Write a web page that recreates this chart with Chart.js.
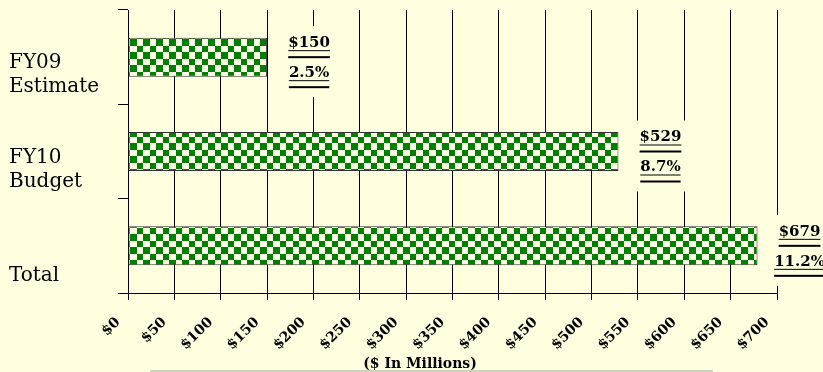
<!DOCTYPE html>
<html>
<head>
<meta charset="utf-8">
<script src="https://cdn.jsdelivr.net/npm/chart.js@4/dist/chart.umd.min.js"></script>
<style>
    html, body { margin: 0; padding: 0; background: #ffffe0; }
    #wrap { width: 823px; height: 372px; }
</style>
</head>
<body>
<div id="wrap"><canvas id="grafik" width="823" height="372"></canvas></div>
<script>
// =================
// DATA
// =================
const kategori = [["FY09", "Estimate"], ["FY10", "Budget"], ["Total"]];
const nilai = [150, 529, 679];          // $ juta
const persen = ["2.5%", "8.7%", "11.2%"];
const tickMin = 0;
const tickMax = 700;
const tickStep = 50;
const judulX = "($ In Millions)";

const warnaLatar = "#ffffe0";
const serif = '"DejaVu Serif", serif';

// =================
// POLA KOTAK-KOTAK
// =================
function buatPola() {
    let c = document.createElement("canvas");
    c.width = 13;
    c.height = 13;
    let g = c.getContext("2d");
    g.fillStyle = "#ffffe8";
    g.fillRect(0, 0, 13, 13);
    g.fillStyle = "#008000";
    g.fillRect(0, 0, 7, 7);
    g.fillRect(7, 7, 6, 6);
    return g.createPattern(c, "repeat");
}

// =================
// LATAR BELAKANG
// =================
const latar = {
    id: "latar",
    beforeDraw(chart) {
        let ctx = chart.ctx;
        ctx.save();
        ctx.fillStyle = warnaLatar;
        ctx.fillRect(0, 0, chart.width, chart.height);
        ctx.restore();
    }
};

// =================
// LABEL KATEGORI (kiri)
// =================
const labelKategori = {
    id: "labelKategori",
    afterDraw(chart) {
        let ctx = chart.ctx;
        let y = chart.scales.y;
        let pita = y.getPixelForValue(1) - y.getPixelForValue(0);
        ctx.save();
        ctx.font = "20px " + serif;
        ctx.fillStyle = "#000";
        ctx.textAlign = "left";
        ctx.textBaseline = "alphabetic";
        kategori.forEach(function (baris, i) {
            let bawah = y.getPixelForValue(i) + pita / 2 - 12;
            baris.forEach(function (teks, j) {
                let yy = bawah - (baris.length - 1 - j) * 24;
                ctx.fillText(teks, 9, yy);
            });
        });
        ctx.restore();
    }
};

// =================
// LABEL NILAI (kanan bar)
// =================
function tulisGaris(ctx, teks, cx, yy) {
    let w = ctx.measureText(teks).width;
    ctx.fillText(teks, cx, yy);
    ctx.fillRect(cx - w / 2, yy + 7, w, 1);     // garis bawah teks
    ctx.fillRect(cx - w / 2, yy + 13, w, 2);    // garis kedua
}

const labelNilai = {
    id: "labelNilai",
    afterDatasetsDraw(chart) {
        let ctx = chart.ctx;
        let x = chart.scales.x;
        let y = chart.scales.y;
        ctx.save();
        ctx.font = "bold 15px " + serif;
        ctx.textAlign = "center";
        ctx.textBaseline = "middle";
        nilai.forEach(function (v, i) {
            let t1 = "$" + v;
            let t2 = persen[i];
            let w = Math.max(ctx.measureText(t1).width, ctx.measureText(t2).width);
            let cx = x.getPixelForValue(v) + 42;
            let yc = y.getPixelForValue(i);
            let y1 = yc - 14;
            let y2 = yc + 16;

            // kotak latar menutupi grid
            ctx.fillStyle = warnaLatar;
            ctx.fillRect(cx - w / 2 - 8, y1 - 17, w + 16, (y2 + 24) - (y1 - 17));

            ctx.fillStyle = "#000";
            tulisGaris(ctx, t1, cx, y1);
            tulisGaris(ctx, t2, cx, y2);
        });
        ctx.restore();
    }
};

// =================
// JUDUL SUMBU X
// =================
const judulSumbu = {
    id: "judulSumbu",
    afterDraw(chart) {
        let ctx = chart.ctx;
        let x = chart.scales.x;
        ctx.save();
        ctx.font = "bold 14px " + serif;
        ctx.fillStyle = "#000";
        ctx.textAlign = "center";
        ctx.textBaseline = "alphabetic";
        ctx.fillText(judulX, x.getPixelForValue(315), 368);
        ctx.fillStyle = "#a0a0a0";
        ctx.fillRect(x.getPixelForValue(24), 370.5, x.getPixelForValue(631) - x.getPixelForValue(24), 1);
        ctx.restore();
    }
};

// =================
// GRAFIK BATANG
// =================
function buatGrafik() {
    let ctx = document.getElementById("grafik").getContext("2d");
    new Chart(ctx, {
        type: "bar",
        data: {
            labels: kategori,
            datasets: [{
                data: nilai,
                backgroundColor: buatPola(),
                borderColor: "#333",
                borderWidth: 1,
                borderSkipped: false,
                barPercentage: 0.414,
                categoryPercentage: 1
            }]
        },
        options: {
            indexAxis: "y",
            responsive: false,
            animation: false,
            layout: { padding: { top: 10, left: 118, right: 46, bottom: 0 } },
            plugins: {
                legend: { display: false },
                tooltip: { enabled: false }
            },
            scales: {
                x: {
                    min: tickMin,
                    max: tickMax,
                    ticks: {
                        stepSize: tickStep,
                        minRotation: 45,
                        maxRotation: 45,
                        padding: 14,
                        labelOffset: -10,
                        color: "#000",
                        font: { family: serif, size: 14, weight: "bold" },
                        callback: function (v) { return "$" + v; }
                    },
                    grid: { color: "#000", lineWidth: 1, tickLength: 7 },
                    border: { color: "#000", width: 1 },
                    afterFit: function (s) { s.height = 79; }
                },
                y: {
                    offset: true,
                    ticks: { display: false },
                    grid: { drawOnChartArea: false, drawTicks: true, tickLength: 10, color: "#000", offset: true },
                    border: { color: "#000", width: 1 },
                    afterFit: function (s) { s.width = 10; }
                }
            }
        },
        plugins: [latar, labelKategori, labelNilai, judulSumbu]
    });
}

buatGrafik();
</script>
</body>
</html>
